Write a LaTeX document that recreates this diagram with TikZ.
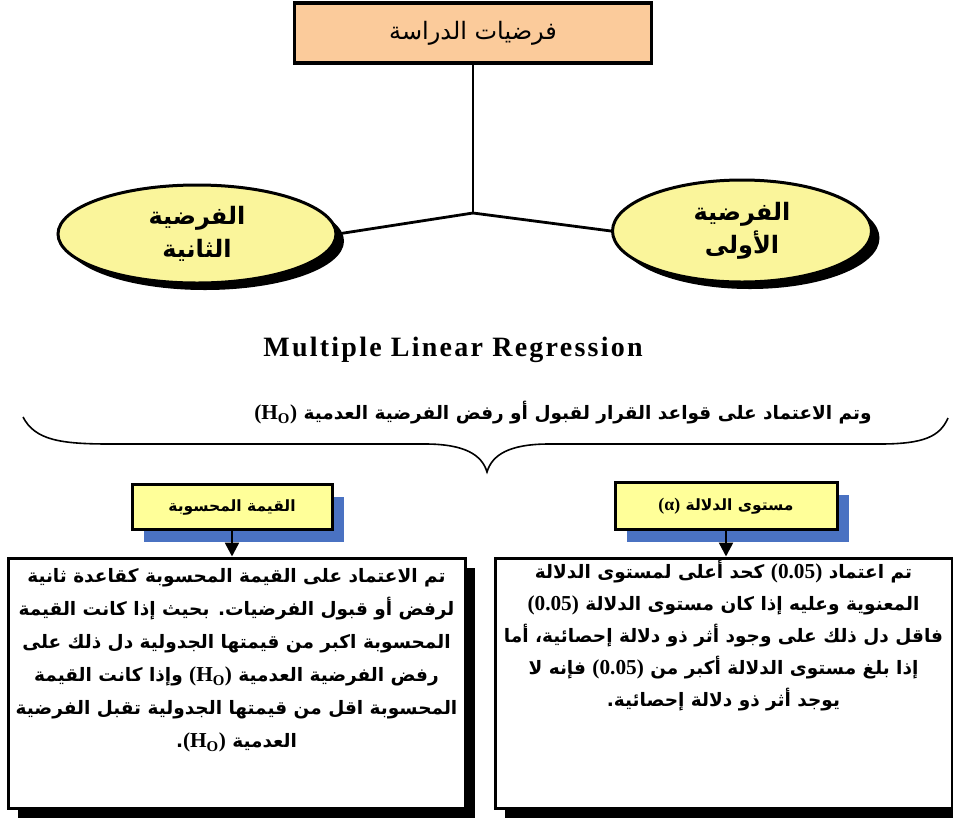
\documentclass[tikz,border=0pt]{standalone}
\usepackage{fontspec}
\setmainfont{Liberation Serif}
\newfontfamily\arabicfont[Script=Arabic]{DejaVu Sans}
\newfontfamily\latinfont[Scale=1.15]{Liberation Serif}
\newfontfamily\mlrfont[LetterSpace=8]{Liberation Serif}
\TeXXeTstate=1
\usetikzlibrary{positioning, shapes.geometric, shadows, arrows.meta}
\definecolor{TitlePeach}{RGB}{251,203,155}
\definecolor{HypYellow}{RGB}{250,245,155}
\definecolor{LabelYellow}{RGB}{255,255,153}
\definecolor{ShadowBlue}{RGB}{74,114,194}

\newcommand{\ar}[1]{{\arabicfont\beginR #1\endR}}
\newcommand{\ho}{\beginL{\latinfont\bfseries(H\textsubscript{O})}\endL}
\newcommand{\pval}[1]{\beginL{\latinfont\bfseries(#1)}\endL}

\begin{document}
\begin{tikzpicture}[x=1pt,y=-1pt,
    titlebox/.style={draw, line width=3.5pt, fill=TitlePeach, minimum width=357pt, minimum height=60pt, font=\fontsize{24}{28}\selectfont},
    hypnode/.style={ellipse, draw, line width=3pt, fill=HypYellow, inner sep=0pt, align=center, font=\fontsize{24}{33}\selectfont\bfseries, drop shadow={shadow xshift=8pt, shadow yshift=-7pt, fill=black, opacity=1}},
    lblbox/.style={draw, line width=3pt, fill=LabelYellow, inner sep=0pt, font=\fontsize{15.5}{18}\selectfont\bfseries, drop shadow={shadow xshift=12pt, shadow yshift=-12pt, fill=ShadowBlue, opacity=1}},
    textbox/.style={draw, line width=3pt, fill=white, minimum width=457pt, minimum height=250pt, drop shadow={shadow xshift=10pt, shadow yshift=-10pt, fill=black, opacity=1}},
    bodytext/.style={align=center, inner sep=0pt, font=\fontsize{18.5}{33}\selectfont\bfseries},
    link/.style={line width=2.8pt},
    dnarrow/.style={line width=2.5pt, -{Triangle[width=14pt,length=14pt]}}
  ]
  \useasboundingbox (0,0) rectangle (953,820);

  % hypotheses tree
  \node[titlebox] (title) at (473,33) {\ar{فرضيات الدراسة}};
  \coordinate (hub) at (title.south |- 0,213);
  \node[hypnode, minimum width=278pt, minimum height=98pt] (hypB) at (197,234) {\ar{الفرضية}\\\ar{الثانية}};
  \node[hypnode, minimum width=259pt, minimum height=102pt] (hypA) at (742,231) {\ar{الفرضية}\\\ar{الأولى}};
  \draw[link] (title.south) -- (hub);
  \draw[link] (hub) -- (hypB.east);
  \draw[link] (hub) -- (hypA.west);

  \node[font=\fontsize{28}{30}\selectfont\bfseries\mlrfont] (mlr) at (453,350) {Multiple Linear Regression};

  % decision rules
  \node[font=\fontsize{18.5}{22}\selectfont\bfseries] (rule) at (563,413) {\ar{وتم الاعتماد على قواعد القرار لقبول أو رفض الفرضية العدمية \ho}};
  \coordinate (tip) at (487,472);
  \draw[line width=1.6pt] (23,417) .. controls (35,440) and (60,444) .. (110,444) -- (425,444)
    .. controls (465,444) and (482,455) .. (tip)
    .. controls (492,455) and (509,444) .. (549,444) -- (880,444)
    .. controls (925,444) and (940,436) .. (948,418);

  \node[lblbox, minimum width=200pt, minimum height=45pt] (lblCalc) at (232,507) {\ar{القيمة المحسوبة}};
  \node[lblbox, minimum width=222pt, minimum height=47pt] (lblSig) at (726,506) {\ar{مستوى الدلالة \beginL{\latinfont\bfseries(α)}\endL}};

  \node[textbox] (boxCalc) at (236.5,683) {};
  \node[textbox] (boxSig) at (723.5,683) {};
  \draw[dnarrow] (lblCalc.south) -- (lblCalc.south |- boxCalc.north);
  \draw[dnarrow] (lblSig.south) -- (lblSig.south |- boxSig.north);

  \node[bodytext, below=12pt of boxCalc.north] (txtCalc) {%
    \ar{تم الاعتماد على القيمة المحسوبة كقاعدة ثانية}\\
    \ar{لرفض أو قبول الفرضيات. بحيث إذا كانت القيمة}\\
    \ar{المحسوبة اكبر من قيمتها الجدولية دل ذلك على}\\
    \ar{رفض الفرضية العدمية \ho{} وإذا كانت القيمة}\\
    \ar{المحسوبة اقل من قيمتها الجدولية تقبل الفرضية}\\
    \ar{العدمية \ho.}};
  \node[bodytext, font=\fontsize{18.5}{32}\selectfont\bfseries, below=3pt of boxSig.north] (txtSig) {%
    \ar{تم اعتماد \pval{0.05} كحد أعلى لمستوى الدلالة}\\
    \ar{المعنوية وعليه إذا كان مستوى الدلالة \pval{0.05}}\\
    \ar{فاقل دل ذلك على وجود أثر ذو دلالة إحصائية، أما}\\
    \ar{إذا بلغ مستوى الدلالة أكبر من \pval{0.05} فإنه لا}\\
    \ar{يوجد أثر ذو دلالة إحصائية.}};
\end{tikzpicture}
\end{document}
